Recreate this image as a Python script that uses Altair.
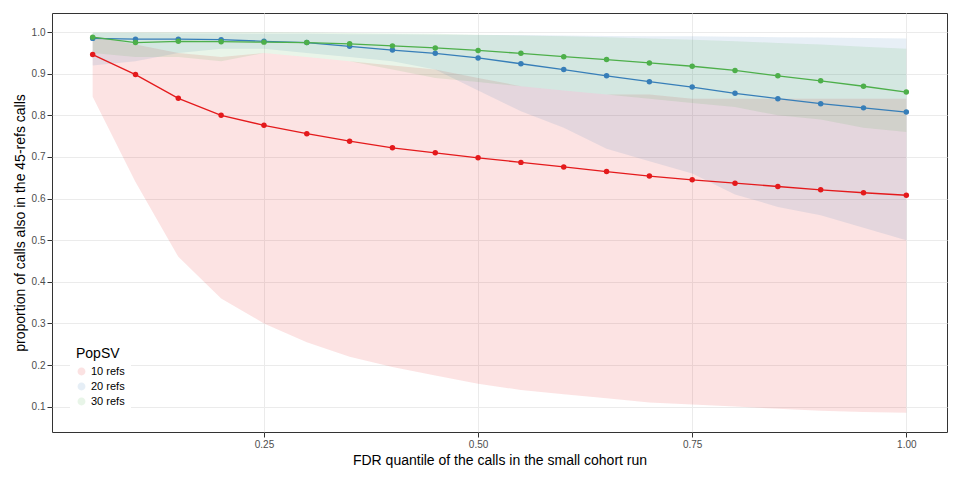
import altair as alt
import pandas as pd

fdr = [round(0.05 * i, 2) for i in range(1, 21)]

r10 = [0.946, 0.898, 0.841, 0.800, 0.776, 0.756, 0.738, 0.722, 0.710, 0.698,
       0.687, 0.676, 0.665, 0.654, 0.645, 0.637, 0.629, 0.621, 0.614, 0.608]
r10_lo = [0.845, 0.64, 0.46, 0.36, 0.30, 0.255, 0.22, 0.195, 0.175, 0.155,
          0.14, 0.13, 0.12, 0.11, 0.105, 0.10, 0.095, 0.09, 0.087, 0.085]
r10_hi = [0.99, 0.97, 0.95, 0.94, 0.95, 0.94, 0.93, 0.92, 0.91, 0.89,
          0.87, 0.86, 0.85, 0.85, 0.84, 0.84, 0.84, 0.84, 0.84, 0.84]

r20 = [0.985, 0.983, 0.983, 0.982, 0.978, 0.975, 0.966, 0.957, 0.949, 0.938,
       0.924, 0.910, 0.895, 0.881, 0.868, 0.853, 0.840, 0.828, 0.818, 0.808]
r20_lo = [0.92, 0.93, 0.95, 0.96, 0.96, 0.95, 0.94, 0.93, 0.91, 0.86,
          0.81, 0.77, 0.72, 0.69, 0.66, 0.61, 0.58, 0.56, 0.53, 0.50]
r20_hi = [0.998, 0.998, 0.997, 0.997, 0.996, 0.996, 0.995, 0.995, 0.994, 0.993,
          0.993, 0.992, 0.991, 0.990, 0.990, 0.989, 0.988, 0.987, 0.986, 0.985]

r30 = [0.988, 0.975, 0.978, 0.977, 0.976, 0.975, 0.972, 0.967, 0.962, 0.956,
       0.949, 0.941, 0.934, 0.926, 0.918, 0.908, 0.895, 0.883, 0.870, 0.856]
r30_lo = [0.95, 0.94, 0.94, 0.93, 0.95, 0.94, 0.93, 0.91, 0.89, 0.88,
          0.87, 0.86, 0.85, 0.84, 0.83, 0.82, 0.80, 0.79, 0.77, 0.76]
r30_hi = [1.0, 1.0, 1.0, 1.0, 1.0, 0.999, 0.998, 0.997, 0.996, 0.994,
          0.992, 0.990, 0.988, 0.985, 0.982, 0.978, 0.974, 0.970, 0.965, 0.960]

groups = ["10 refs", "20 refs", "30 refs"]
colors = ["#E41A1C", "#377EB8", "#4DAF4A"]

rows = []
for g, m, lo, hi in zip(groups, [r10, r20, r30], [r10_lo, r20_lo, r30_lo], [r10_hi, r20_hi, r30_hi]):
    for x, a, b, c in zip(fdr, m, lo, hi):
        rows.append({"fdr": x, "prop": a, "lo": b, "hi": c, "PopSV": g})
df = pd.DataFrame(rows)

xs = alt.Scale(domain=[0.0025, 1.0475], nice=False, zero=False)
ys = alt.Scale(domain=[0.039, 1.046], nice=False, zero=False)
leg = alt.Legend(orient="bottom-left", title="PopSV", symbolType="circle",
                 symbolSize=40, titleFontSize=14, titleFontWeight="normal",
                 labelFontSize=11, fillColor="#ffffff", padding=6)
col = alt.Color("PopSV:N", scale=alt.Scale(domain=groups, range=colors), legend=leg)

base = alt.Chart(df)

band = base.mark_area(opacity=0.12).encode(
    x=alt.X("fdr:Q", scale=xs),
    y=alt.Y("lo:Q", scale=ys),
    y2="hi:Q",
    color=col,
)

line = base.mark_line(strokeWidth=1.3).encode(
    x=alt.X("fdr:Q", scale=xs,
            axis=alt.Axis(values=[0.25, 0.5, 0.75, 1.0], format=".2f",
                          title="FDR quantile of the calls in the small cohort run")),
    y=alt.Y("prop:Q", scale=ys,
            axis=alt.Axis(values=[round(0.1 * i, 1) for i in range(1, 11)], format=".1f",
                          title="proportion of calls also in the 45-refs calls")),
    color=col,
)

pts = base.mark_circle(size=30, opacity=1).encode(
    x=alt.X("fdr:Q", scale=xs),
    y=alt.Y("prop:Q", scale=ys),
    color=col,
)

chart = (band + line + pts).properties(
    width=944, height=464,
    autosize=alt.AutoSizeParams(type="fit", contains="padding"),
).configure_axis(
    grid=True, gridColor="#ebebeb", domain=False, tickColor="#333333",
    labelColor="#4d4d4d", labelFontSize=10, titleFontSize=14, titleFontWeight="normal",
    titleColor="#000000", labelFont="Liberation Sans", titleFont="Liberation Sans",
).configure_view(stroke="#333333", strokeWidth=1).configure_legend(
    labelFont="Liberation Sans", titleFont="Liberation Sans")

chart.save("out.html", embed_options={"renderer": "svg", "actions": False})
